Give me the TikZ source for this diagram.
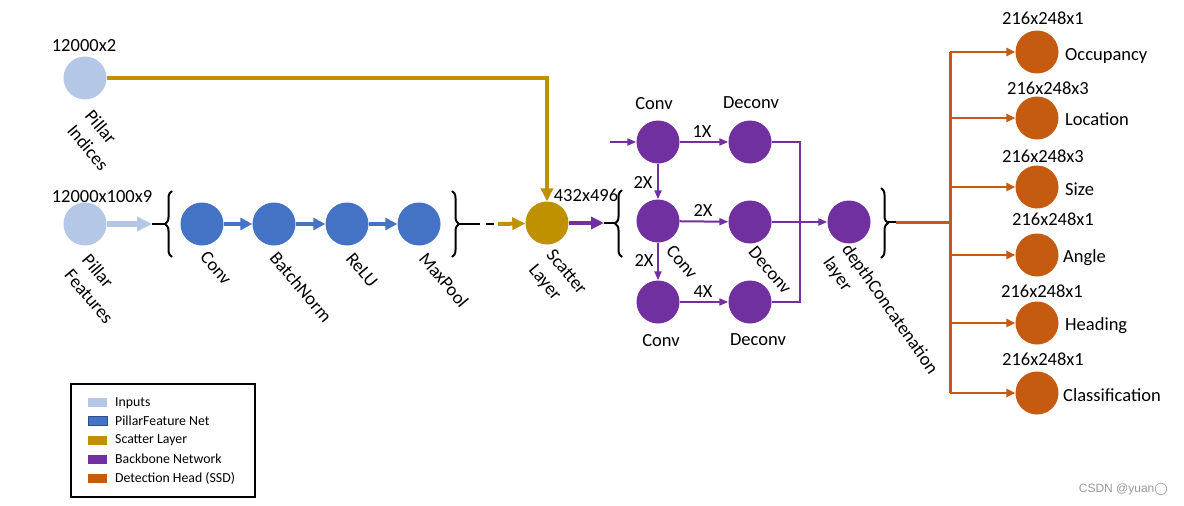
\documentclass[tikz,border=0pt]{standalone}
\usepackage{fontspec}
\setmainfont{Carlito}
\newfontfamily\djv{DejaVu Sans}
\newfontfamily\wmfont{Liberation Sans}
\usetikzlibrary{arrows.meta,decorations.pathreplacing}
\definecolor{cin}{HTML}{B4C7E7}
\definecolor{cpf}{HTML}{4472C4}
\definecolor{csc}{HTML}{BF9000}
\definecolor{cbb}{HTML}{7030A0}
\definecolor{cdh}{HTML}{C55A11}
\tikzset{
  dot/.style={circle, minimum size=43pt, inner sep=0pt},
  inp/.style={dot, fill=cin},
  pfn/.style={dot, fill=cpf},
  scl/.style={dot, fill=csc},
  bbn/.style={dot, fill=cbb},
  dhn/.style={dot, fill=cdh},
  lbl/.style={font=\fontsize{18.5}{23}\selectfont, inner sep=0pt},
  rlbl/.style={lbl, align=left, rotate=-50},
  clbl/.style={lbl, align=left, rotate=-55},
  brc/.style={decorate, decoration={brace, amplitude=7pt}, line width=2pt, black},
  tipline/.style={black, line width=2.5pt},
  inarrow/.style={cin, line width=5.5pt, -{Triangle[length=15pt,width=14pt]}},
  pfarrow/.style={cpf, line width=4pt, -{Triangle[length=12pt,width=12pt]}},
  scarrow/.style={csc, line width=4pt, -{Triangle[length=13pt,width=12pt]}},
  bbthick/.style={cbb, line width=4pt, -{Triangle[length=13pt,width=12pt]}},
  bbthin/.style={cbb, line width=2pt, -{Triangle[length=9pt,width=7pt]}},
  bbline/.style={cbb, line width=2.5pt},
  dhline/.style={cdh, line width=3pt},
  dharrow/.style={cdh, line width=2.8pt, -{Triangle[length=9pt,width=8pt]}},
  sw/.style={minimum width=19pt, minimum height=9pt, inner sep=0pt},
  leglbl/.style={font=\fontsize{13.8}{16}\selectfont, inner sep=0pt, anchor=west},
}
\begin{document}
\begin{tikzpicture}[x=1pt,y=-1pt]
\useasboundingbox (0,0) rectangle (1184,506);
\fill[white] (0,0) rectangle (1184,506);

% Inputs
\node[inp] (pi) at (85,78) {};
\node[inp] (pf) at (85,224) {};
\node[lbl] (pid) at (84,46) {12000x2};
\node[lbl] (pfd) at (102,197) {12000x100x9};
\node[rlbl] (pil) at (97,140) {Pillar\\Indices};
\node[rlbl] (pfl) at (98,289) {Pillar\\Features};

% Pillar feature net
\coordinate (pfend) at (152,224);
\coordinate (b1tip) at (165,224);
\draw[inarrow] (pf) -- (pfend);
\draw[tipline] (pfend) -- (b1tip);
\draw[brc] (172,257) -- (172,191);

\node[pfn] (c1) at (202,224) {};
\node[pfn] (bn) at (274,224) {};
\node[pfn] (re) at (347,224) {};
\node[pfn] (mp) at (419,224) {};
\draw[pfarrow] (c1) -- (bn);
\draw[pfarrow] (bn) -- (re);
\draw[pfarrow] (re) -- (mp);
\node[rlbl] (c1l) at (216,268) {Conv};
\node[rlbl] (bnl) at (301,287) {BatchNorm};
\node[rlbl] (rel) at (362,270) {ReLU};
\node[rlbl] (mpl) at (444,280) {MaxPool};

\draw[brc] (452,191) -- (452,257);
\coordinate (b2tip) at (459,224);
\coordinate (dash1) at (472,224);
\coordinate (dash2) at (496,224);
\coordinate (gs) at (498,224);
\draw[tipline] (b2tip) -- (dash1);
\draw[black, line width=2.5pt, dash pattern=on 8pt off 6pt] (dash1) -- (dash2);

% Scatter
\node[scl] (sc) at (547,223) {};
\draw[scarrow] (gs) -- (sc);
\draw[scarrow] (pi) -| (sc);
\node[rlbl] (scl) at (557,280) {Scatter\\Layer};
\node[lbl] (scd) at (586,195) {432x496};

\coordinate (pend) at (604,223);
\coordinate (b3tip) at (615,223);
\draw[bbthick] (sc) -- (pend);
\draw[tipline] (pend) -- (b3tip);
\draw[brc] (622,257) -- (622,190);

% Backbone
\node[bbn] (cv1) at (658,142) {};
\node[bbn] (dc1) at (750,142) {};
\node[bbn] (cv2) at (658,221) {};
\node[bbn] (dc2) at (750,222) {};
\node[bbn] (cv3) at (658,302) {};
\node[bbn] (dc3) at (750,302) {};
\node[bbn] (cc) at (849,222) {};
\coordinate (in1) at (610,142);
\coordinate (col1) at (800,142);
\coordinate (col3) at (800,302);
\draw[bbthin] (in1) -- (cv1);
\draw[bbthin] (cv1) -- (dc1);
\draw[bbthin] (cv1) -- (cv2);
\draw[bbthin] (cv2) -- (dc2);
\draw[bbthin] (cv2) -- (cv3);
\draw[bbthin] (cv3) -- (dc3);
\draw[bbline] (dc1) -- (col1) -- (col3) -- (dc3);
\draw[bbthin] (dc2) -- (cc);

\node[lbl] (cv1l) at (654,104) {Conv};
\node[lbl] (dc1l) at (751,103) {Deconv};
\node[lbl] (cv3l) at (661,341) {Conv};
\node[lbl] (dc3l) at (758,340) {Deconv};
\node[rlbl] (cv2l) at (682,262) {Conv};
\node[rlbl] (dc2l) at (770,270) {Deconv};
\node[lbl] (x1) at (702,132) {1X};
\node[lbl] (x2a) at (643,182) {2X};
\node[lbl] (x2b) at (703,210) {2X};
\node[lbl] (x2c) at (644,260) {2X};
\node[lbl] (x4) at (703,292) {4X};
\node[clbl] (ccl) at (880,316) {depthConcatenation\\layer};

\draw[brc] (881,188) -- (881,258);
\coordinate (b4tip) at (888,222);
\coordinate (oend) at (896,222);
\coordinate (tr) at (950,222);
\draw[tipline] (b4tip) -- (oend);
\draw[dhline] (oend) -- (tr);

% Detection head
\node[dhn] (oc) at (1037,52) {};
\node[dhn] (lo) at (1037,118) {};
\node[dhn] (si) at (1037,187) {};
\node[dhn] (an) at (1037,255) {};
\node[dhn] (he) at (1037,323) {};
\node[dhn] (cl) at (1037,393) {};
\draw[dhline] (tr |- oc) -- (tr |- cl);
\foreach \n in {oc,lo,si,an,he,cl} { \draw[dharrow] (tr |- \n) -- (\n); }

\node[lbl, anchor=base west] (ocl) at (1065,60) {Occupancy};
\node[lbl, anchor=base west] (lol) at (1065,125) {Location};
\node[lbl, anchor=base west] (sil) at (1065,195) {Size};
\node[lbl, anchor=base west] (anl) at (1063,262) {Angle};
\node[lbl, anchor=base west] (hel) at (1065,330) {Heading};
\node[lbl, anchor=base west] (cll) at (1063,401) {Classification};

\node[lbl] (ocd) at (1043,18) {216x248x1};
\node[lbl] (lod) at (1048,88) {216x248x3};
\node[lbl] (sid) at (1043,156) {216x248x3};
\node[lbl] (and) at (1053,219) {216x248x1};
\node[lbl] (hed) at (1042,291) {216x248x1};
\node[lbl] (cld) at (1043,359) {216x248x1};

% Legend
\node[draw, line width=1.6pt, minimum width=184pt, minimum height=113pt, inner sep=0pt, anchor=north west] (leg) at (70,383) {};
\node[sw, fill=cin] (s1) at (97.5,402) {};
\node[sw, fill=cpf, draw=cpf!70!black, line width=0.6pt] (s2) at (97.5,421) {};
\node[sw, fill=csc] (s3) at (97.5,440) {};
\node[sw, fill=cbb] (s4) at (97.5,459) {};
\node[sw, fill=cdh] (s5) at (97.5,478) {};
\node[leglbl] (t1) at (115,403) {Inputs};
\node[leglbl] (t2) at (115,421) {PillarFeature Net};
\node[leglbl] (t3) at (115,440) {Scatter Layer};
\node[leglbl] (t4) at (115,459) {Backbone Network};
\node[leglbl] (t5) at (115,478) {Detection Head (SSD)};

% watermark
\node[font=\wmfont\fontsize{12}{14}\selectfont, text=black!40, inner sep=0pt, anchor=east] (wm) at (1168,489) {CSDN @yuan{\djv ◯}};
\end{tikzpicture}
\end{document}
